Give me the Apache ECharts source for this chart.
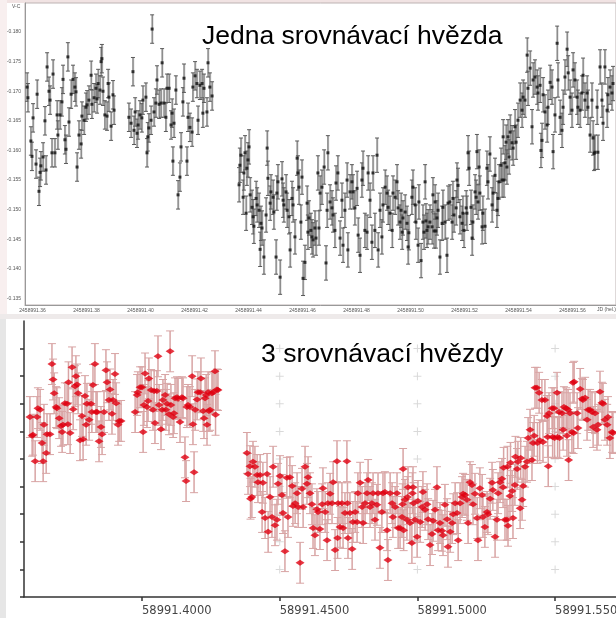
<!DOCTYPE html>
<html><head><meta charset="utf-8">
<script src="https://cdn.jsdelivr.net/npm/echarts@6/dist/echarts.min.js"></script>
<style>html,body{margin:0;padding:0;background:#fff}#c{width:616px;height:618px}</style>
</head><body><div id="c"></div>
<script>
// ---------- axis bases & ticks ----------
const JD0 = 2458991;      // top panel: JD (hel.)
const MJD0 = 58991;       // bottom panel
const topXTicks = [0.36,0.38,0.40,0.42,0.44,0.46,0.48,0.50,0.52,0.54,0.56];
const topYTicks = [-0.180,-0.175,-0.170,-0.165,-0.160,-0.155,-0.150,-0.145,-0.140,-0.135];
const botXTicks = [0.40,0.45,0.50,0.55];
const botYTicks = [-0.180,-0.175,-0.170,-0.165,-0.160,-0.155,-0.150,-0.145,-0.140,-0.135];
const crossXTicks = [0.45,0.50,0.55];   // faint "+" grid marks seen in the plot area
const titleTop = 'Jedna srovnávací hvězda';
const titleBot = '3 srovnávací hvězdy';
// typical error bar half-lengths
const topErr = [0.0024, 0.0024, 0.0029];
const botErr = 0.0037;

// ---------- top panel: [fraction of day, V-C] ----------
const topSeg1 = [[.3580,-.1707],[.3583,-.1689],[.3594,-.1616],[.3598,-.1590],[.3602,-.1655],[.3613,-.1577],[.3617,-.1695],[.3624,-.1531],[.3628,-.1563],[.3631,-.1574],[.3639,-.1589],[.3646,-.1650],[.3650,-.1567],[.3654,-.1741],[.3661,-.1700],[.3665,-.1685],[.3672,-.1596],[.3676,-.1729],[.3683,-.1596],[.3691,-.1660],[.3694,-.1626],[.3702,-.1660],[.3709,-.1682],[.3713,-.1720],[.3720,-.1618],[.3724,-.1602],[.3731,-.1758],[.3735,-.1648],[.3743,-.1695],[.3750,-.1720],[.3757,-.1707],[.3761,-.1699],[.3765,-.1572],[.3772,-.1626],[.3780,-.1611],[.3783,-.1658],[.3791,-.1651],[.3798,-.1673],[.3802,-.1677],[.3809,-.1685],[.3817,-.1727],[.3820,-.1678],[.3828,-.1689],[.3835,-.1705],[.3839,-.1687],[.3843,-.1713],[.3850,-.1702],[.3854,-.1750],[.3857,-.1755],[.3861,-.1700],[.3868,-.1660],[.3876,-.1658],[.3880,-.1713],[.3883,-.1690],[.3891,-.1641],[.3898,-.1694],[.3902,-.1668]];
const topSeg2 = [[.3957,-.1656],[.3965,-.1646],[.3972,-.1733],[.3976,-.1634],[.3980,-.1665],[.3987,-.1629],[.3991,-.1643],[.3998,-.1660],[.4005,-.1655],[.4009,-.1685],[.4020,-.1690],[.4024,-.1596],[.4027,-.1623],[.4031,-.1638],[.4039,-.1651],[.4043,-.1805],[.4050,-.1665],[.4057,-.1680],[.4061,-.1719],[.4069,-.1678],[.4076,-.1680],[.4080,-.1748],[.4087,-.1680],[.4094,-.1656],[.4098,-.1705],[.4106,-.1705],[.4113,-.1643],[.4117,-.1663],[.4120,-.1582],[.4124,-.1646],[.4131,-.1702],[.4139,-.1525],[.4146,-.1555],[.4150,-.1606],[.4157,-.1682],[.4161,-.1722],[.4172,-.1582],[.4176,-.1656],[.4183,-.1639],[.4191,-.1631],[.4194,-.1707],[.4202,-.1726],[.4209,-.1713],[.4213,-.1651],[.4220,-.1710],[.4228,-.1713],[.4231,-.1663],[.4235,-.1705],[.4246,-.1665],[.4250,-.1748],[.4257,-.1707],[.4265,-.1692]];
const topSeg3 = [[.4365,-.1542],[.4368,-.1575],[.4372,-.1592],[.4380,-.1521],[.4383,-.1562],[.4387,-.1596],[.4391,-.1494],[.4394,-.1570],[.4398,-.1584],[.4402,-.1606],[.4406,-.1525],[.4413,-.1504],[.4417,-.1488],[.4420,-.1472],[.4428,-.1519],[.4432,-.1508],[.4439,-.1499],[.4443,-.1433],[.4446,-.1477],[.4450,-.1469],[.4457,-.1420],[.4465,-.1491],[.4469,-.1604],[.4472,-.1553],[.4480,-.1511],[.4483,-.1530],[.4491,-.1521],[.4494,-.1496],[.4502,-.1420],[.4505,-.1528],[.4509,-.1547],[.4517,-.1386],[.4524,-.1552],[.4528,-.1516],[.4531,-.1508],[.4539,-.1530],[.4543,-.1499],[.4550,-.1488],[.4554,-.1432],[.4561,-.1519],[.4565,-.1508],[.4572,-.1454],[.4580,-.1587],[.4583,-.1562],[.4587,-.1538],[.4594,-.1479],[.4598,-.1555],[.4602,-.1384],[.4609,-.1411],[.4617,-.1511],[.4620,-.1462],[.4624,-.1486],[.4631,-.1465],[.4635,-.1454],[.4639,-.1449],[.4646,-.1469],[.4650,-.1452],[.4657,-.1562],[.4661,-.1469],[.4665,-.1528],[.4672,-.1538],[.4680,-.1572],[.4687,-.1410],[.4691,-.1499],[.4694,-.1596],[.4702,-.1513],[.4709,-.1503],[.4713,-.1491],[.4720,-.1465],[.4724,-.1545],[.4731,-.1562],[.4739,-.1452],[.4746,-.1516],[.4750,-.1440],[.4757,-.1499],[.4765,-.1550],[.4768,-.1432],[.4776,-.1530],[.4783,-.1547],[.4787,-.1530],[.4794,-.1503],[.4802,-.1536],[.4806,-.1457],[.4813,-.1423],[.4820,-.1550],[.4824,-.1570],[.4831,-.1465],[.4839,-.1462],[.4843,-.1562],[.4850,-.1516],[.4857,-.1445],[.4861,-.1562],[.4868,-.1465],[.4876,-.1592],[.4880,-.1432],[.4887,-.1499],[.4894,-.1454],[.4898,-.1508],[.4906,-.1538],[.4913,-.1528],[.4917,-.1504],[.4924,-.1494],[.4932,-.1465],[.4935,-.1528],[.4943,-.1521],[.4950,-.1547],[.4954,-.1503],[.4961,-.1479],[.4965,-.1499],[.4969,-.1462],[.4972,-.1486],[.4980,-.1496],[.4987,-.1477],[.4991,-.1437],[.4994,-.1461],[.5005,-.1521],[.5009,-.1538],[.5017,-.1508],[.5020,-.1479],[.5028,-.1440],[.5031,-.1513],[.5039,-.1414],[.5046,-.1479],[.5050,-.1462],[.5054,-.1547],[.5057,-.1481],[.5061,-.1465],[.5065,-.1471],[.5072,-.1479],[.5080,-.1471],[.5083,-.1525],[.5087,-.1464],[.5091,-.1513],[.5094,-.1464],[.5098,-.1486],[.5102,-.1499],[.5109,-.1420],[.5117,-.1477],[.5120,-.1504],[.5128,-.1479],[.5135,-.1423],[.5139,-.1511],[.5146,-.1513],[.5154,-.1479],[.5157,-.1519],[.5161,-.1491],[.5169,-.1503],[.5172,-.1550],[.5176,-.1541],[.5183,-.1488],[.5191,-.1477],[.5194,-.1494],[.5198,-.1465],[.5206,-.1503],[.5209,-.1494],[.5213,-.1596],[.5217,-.1570],[.5224,-.1504],[.5228,-.1452],[.5231,-.1479],[.5239,-.1530],[.5243,-.1521],[.5246,-.1598],[.5250,-.1513],[.5254,-.1572],[.5257,-.1528],[.5265,-.1471],[.5268,-.1494],[.5276,-.1472],[.5283,-.1570],[.5287,-.1547],[.5294,-.1594],[.5302,-.1508],[.5306,-.1528],[.5313,-.1558],[.5320,-.1499],[.5324,-.1519],[.5328,-.1547],[.5335,-.1575],[.5339,-.1550],[.5343,-.1623],[.5346,-.1550],[.5350,-.1579],[.5354,-.1614],[.5357,-.1572],[.5361,-.1623],[.5365,-.1589],[.5369,-.1631],[.5376,-.1613],[.5380,-.1604],[.5387,-.1640],[.5391,-.1614],[.5398,-.1651],[.5406,-.1685],[.5413,-.1668],[.5417,-.1690],[.5424,-.1685],[.5432,-.1761],[.5435,-.1705],[.5443,-.1739],[.5450,-.1640],[.5454,-.1719],[.5461,-.1724],[.5469,-.1707],[.5472,-.1697],[.5480,-.1710],[.5483,-.1600],[.5487,-.1617],[.5491,-.1694],[.5498,-.1665],[.5506,-.1643],[.5509,-.1673],[.5517,-.1715],[.5524,-.1707],[.5528,-.1598],[.5535,-.1660],[.5543,-.1781],[.5546,-.1719],[.5554,-.1656],[.5561,-.1634],[.5565,-.1673],[.5572,-.1724],[.5580,-.1771],[.5584,-.1731],[.5591,-.1690],[.5598,-.1668],[.5602,-.1736],[.5609,-.1719],[.5617,-.1690],[.5620,-.1673],[.5628,-.1668],[.5635,-.1697],[.5639,-.1727],[.5646,-.1685],[.5654,-.1697],[.5657,-.1673],[.5665,-.1626],[.5672,-.1685],[.5676,-.1621],[.5680,-.1595],[.5683,-.1597],[.5691,-.1673],[.5694,-.1597],[.5702,-.1741],[.5709,-.1685],[.5713,-.1646],[.5720,-.1741],[.5728,-.1668],[.5731,-.1694],[.5739,-.1707],[.5746,-.1697],[.5750,-.1713]];

// ---------- bottom panel: [fraction of day, magnitude] ----------
const botSeg1 = [[.3593,-.1676],[.3601,-.1642],[.3604,-.1644],[.3612,-.1596],[.3619,-.1676],[.3622,-.1692],[.3630,-.1689],[.3637,-.1629],[.3641,-.1596],[.3644,-.1662],[.3652,-.1611],[.3655,-.1645],[.3666,-.1645],[.3673,-.1772],[.3677,-.1744],[.3681,-.1719],[.3688,-.1694],[.3691,-.1692],[.3699,-.1674],[.3706,-.1660],[.3710,-.1649],[.3713,-.1662],[.3720,-.1701],[.3728,-.1700],[.3731,-.1663],[.3733,-.1739],[.3739,-.1647],[.3746,-.1766],[.3750,-.1690],[.3757,-.1732],[.3760,-.1750],[.3764,-.1735],[.3768,-.1719],[.3775,-.1634],[.3782,-.1678],[.3786,-.1636],[.3793,-.1714],[.3797,-.1662],[.3800,-.1700],[.3808,-.1671],[.3815,-.1700],[.3818,-.1685],[.3822,-.1734],[.3829,-.1772],[.3833,-.1685],[.3837,-.1685],[.3844,-.1632],[.3851,-.1658],[.3855,-.1645],[.3862,-.1685],[.3869,-.1761],[.3873,-.1739],[.3880,-.1707],[.3884,-.1726],[.3891,-.1682],[.3895,-.1707],[.3902,-.1754],[.3906,-.1701],[.3913,-.1662],[.3917,-.1669],[.3924,-.1669]];
const botSeg2 = [[.3975,-.1685],[.3982,-.1716],[.3985,-.1721],[.3993,-.1730],[.4000,-.1730],[.4004,-.1649],[.4007,-.1698],[.4011,-.1755],[.4018,-.1694],[.4022,-.1705],[.4025,-.1746],[.4033,-.1725],[.4040,-.1689],[.4044,-.1723],[.4047,-.1665],[.4054,-.1723],[.4058,-.1786],[.4062,-.1698],[.4069,-.1654],[.4073,-.1689],[.4076,-.1707],[.4084,-.1716],[.4087,-.1689],[.4091,-.1700],[.4098,-.1681],[.4102,-.1795],[.4105,-.1698],[.4113,-.1676],[.4116,-.1683],[.4120,-.1710],[.4127,-.1712],[.4131,-.1709],[.4138,-.1667],[.4145,-.1712],[.4149,-.1710],[.4156,-.1603],[.4160,-.1560],[.4163,-.1694],[.4167,-.1698],[.4174,-.1694],[.4182,-.1750],[.4185,-.1663],[.4189,-.1576],[.4193,-.1689],[.4200,-.1708],[.4203,-.1721],[.4211,-.1721],[.4214,-.1746],[.4222,-.1687],[.4225,-.1674],[.4229,-.1710],[.4233,-.1716],[.4236,-.1662],[.4240,-.1721],[.4243,-.1687],[.4247,-.1689],[.4254,-.1719],[.4258,-.1721],[.4265,-.1759],[.4267,-.1680],[.4272,-.1726],[.4276,-.1725]];
const botSeg3 = [[.4381,-.1611],[.4385,-.1573],[.4392,-.1587],[.4394,-.1528],[.4399,-.1531],[.4403,-.1595],[.4410,-.1586],[.4418,-.1571],[.4421,-.1558],[.4429,-.1571],[.4436,-.1504],[.4439,-.1557],[.4447,-.1493],[.4454,-.1573],[.4458,-.1468],[.4465,-.1531],[.4472,-.1495],[.4476,-.1586],[.4483,-.1480],[.4490,-.1490],[.4494,-.1555],[.4501,-.1569],[.4508,-.1535],[.4512,-.1502],[.4519,-.1433],[.4526,-.1566],[.4530,-.1495],[.4537,-.1567],[.4545,-.1551],[.4548,-.1515],[.4556,-.1520],[.4563,-.1538],[.4567,-.1513],[.4574,-.1412],[.4581,-.1546],[.4585,-.1513],[.4592,-.1586],[.4599,-.1555],[.4603,-.1567],[.4610,-.1538],[.4617,-.1518],[.4621,-.1475],[.4628,-.1462],[.4635,-.1509],[.4639,-.1504],[.4646,-.1473],[.4654,-.1518],[.4657,-.1547],[.4665,-.1504],[.4672,-.1453],[.4675,-.1520],[.4683,-.1537],[.4690,-.1520],[.4694,-.1558],[.4701,-.1435],[.4708,-.1596],[.4710,-.1457],[.4712,-.1520],[.4719,-.1477],[.4726,-.1520],[.4730,-.1475],[.4737,-.1502],[.4744,-.1596],[.4746,-.1520],[.4748,-.1457],[.4755,-.1502],[.4763,-.1437],[.4766,-.1486],[.4774,-.1504],[.4781,-.1486],[.4784,-.1538],[.4792,-.1557],[.4799,-.1513],[.4803,-.1484],[.4810,-.1520],[.4817,-.1538],[.4821,-.1562],[.4828,-.1513],[.4835,-.1520],[.4839,-.1538],[.4846,-.1490],[.4853,-.1517],[.4857,-.1538],[.4864,-.1439],[.4871,-.1504],[.4875,-.1538],[.4882,-.1540],[.4890,-.1471],[.4893,-.1417],[.4901,-.1538],[.4908,-.1520],[.4911,-.1495],[.4919,-.1513],[.4926,-.1538],[.4930,-.1475],[.4937,-.1475],[.4944,-.1495],[.4946,-.1518],[.4948,-.1582],[.4950,-.1471],[.4955,-.1526],[.4962,-.1490],[.4964,-.1531],[.4966,-.1549],[.4973,-.1484],[.4980,-.1448],[.4982,-.1538],[.4984,-.1549],[.4986,-.1520],[.4991,-.1490],[.4999,-.1459],[.5002,-.1524],[.5010,-.1486],[.5017,-.1513],[.5020,-.1540],[.5028,-.1508],[.5035,-.1518],[.5039,-.1491],[.5046,-.1444],[.5053,-.1464],[.5057,-.1488],[.5064,-.1508],[.5071,-.1549],[.5075,-.1471],[.5082,-.1484],[.5089,-.1470],[.5093,-.1462],[.5100,-.1517],[.5108,-.1491],[.5111,-.1441],[.5119,-.1468],[.5126,-.1484],[.5130,-.1500],[.5137,-.1520],[.5144,-.1502],[.5148,-.1453],[.5155,-.1520],[.5162,-.1531],[.5166,-.1537],[.5173,-.1535],[.5180,-.1526],[.5184,-.1484],[.5191,-.1558],[.5198,-.1553],[.5202,-.1518],[.5209,-.1537],[.5217,-.1493],[.5220,-.1453],[.5227,-.1547],[.5235,-.1535],[.5238,-.1495],[.5245,-.1477],[.5253,-.1504],[.5256,-.1500],[.5264,-.1528],[.5271,-.1557],[.5274,-.1544],[.5282,-.1459],[.5289,-.1490],[.5293,-.1538],[.5300,-.1558],[.5307,-.1564],[.5311,-.1549],[.5313,-.1584],[.5318,-.1490],[.5325,-.1490],[.5327,-.1586],[.5329,-.1479],[.5336,-.1533],[.5338,-.1593],[.5344,-.1542],[.5347,-.1493],[.5354,-.1553],[.5356,-.1604],[.5362,-.1582],[.5365,-.1595],[.5373,-.1511],[.5375,-.1602],[.5380,-.1526],[.5384,-.1551],[.5391,-.1586],[.5398,-.1595],[.5402,-.1638],[.5409,-.1653],[.5416,-.1598],[.5420,-.1629],[.5424,-.1642],[.5427,-.1729],[.5434,-.1729],[.5436,-.1629],[.5442,-.1720],[.5444,-.1634],[.5452,-.1707],[.5456,-.1631],[.5463,-.1707],[.5471,-.1678],[.5473,-.1640],[.5475,-.1587],[.5478,-.1683],[.5489,-.1692],[.5491,-.1640],[.5496,-.1692],[.5498,-.1638],[.5507,-.1720],[.5509,-.1640],[.5514,-.1685],[.5516,-.1638],[.5525,-.1683],[.5529,-.1653],[.5532,-.1694],[.5540,-.1692],[.5543,-.1642],[.5547,-.1689],[.5549,-.1598],[.5554,-.1683],[.5561,-.1649],[.5565,-.1738],[.5567,-.1647],[.5569,-.1740],[.5580,-.1683],[.5583,-.1656],[.5591,-.1727],[.5598,-.1709],[.5601,-.1707],[.5609,-.1711],[.5616,-.1671],[.5620,-.1689],[.5627,-.1689],[.5634,-.1685],[.5638,-.1658],[.5645,-.1683],[.5652,-.1653],[.5656,-.1662],[.5663,-.1722],[.5670,-.1702],[.5674,-.1700],[.5681,-.1671],[.5689,-.1662],[.5692,-.1676],[.5699,-.1638],[.5707,-.1649],[.5710,-.1647]];

// ---------- build series data ----------
const topData = [].concat(
  topSeg1.map(p => [JD0 + p[0], p[1], topErr[0]]),
  topSeg2.map(p => [JD0 + p[0], p[1], topErr[1]]),
  topSeg3.map(p => [JD0 + p[0], p[1], topErr[2]])
);
const botData = [].concat(botSeg1, botSeg2, botSeg3).map(p => [MJD0 + p[0], p[1], botErr]);
const crossData = [];
crossXTicks.forEach(x => botYTicks.slice(0, -1).forEach(y => crossData.push([MJD0 + x, y])));

function errBars(capW, colors, lw, twoTone) {
  return function (params, api) {
    const x = api.value(0), y = api.value(1), e = api.value(2);
    const a = api.coord([x, y - e]), b = api.coord([x, y + e]);
    const ch = [];
    if (twoTone) {
      ch.push({type:'line', shape:{x1:a[0]+0.8,y1:a[1],x2:b[0]+0.8,y2:b[1]}, style:{stroke:colors[1], lineWidth:lw}});
    }
    ch.push({type:'line', shape:{x1:a[0],y1:a[1],x2:b[0],y2:b[1]}, style:{stroke:colors[0], lineWidth:lw}});
    ch.push({type:'line', shape:{x1:a[0]-capW/2,y1:a[1],x2:a[0]+capW/2,y2:a[1]}, style:{stroke:colors[0], lineWidth:1}});
    ch.push({type:'line', shape:{x1:b[0]-capW/2,y1:b[1],x2:b[0]+capW/2,y2:b[1]}, style:{stroke:colors[0], lineWidth:1}});
    return {type:'group', children: ch};
  };
}

const chart = echarts.init(document.getElementById('c'));
chart.setOption({
  animation: false,
  backgroundColor: '#ffffff',
  graphic: [
    {type:'rect', z:-10, shape:{x:0,y:0,width:616,height:3}, style:{fill:'#f1e3e3'}},
    {type:'rect', z:-10, shape:{x:0,y:0,width:7,height:314}, style:{fill:'#f8efef'}},
    {type:'rect', z:-10, shape:{x:0,y:314,width:616,height:5}, style:{fill:'#eeeaea'}},
    {type:'rect', z:-10, shape:{x:0,y:319,width:6,height:299}, style:{fill:'#e6e6e6'}},
    {type:'text', left:12, top:4, style:{text:'V-C', font:'5px "Liberation Sans", Arial', fill:'#555'}},
    {type:'text', left:597, top:307, style:{text:'JD (hel.)', font:'5px "Liberation Sans", Arial', fill:'#555'}},
    {type:'text', z:50, style:{x:202, y:37, text:titleTop, font:'26.5px "Liberation Sans", Arial', fill:'#000', verticalAlign:'middle', align:'left'}},
    {type:'text', z:50, style:{x:261, y:355, text:titleBot, font:'26.6px "Liberation Sans", Arial', fill:'#000', verticalAlign:'middle', align:'left'}}
  ],
  grid: [
    {left:25, top:3, width:591, height:302, show:true, borderColor:'#bdb3b3', borderWidth:1, backgroundColor:'#fff', outerBoundsMode:'none', containLabel:false},
    {left:24, top:321, width:592, height:276, outerBoundsMode:'none', containLabel:false}
  ],
  xAxis: [
    {gridIndex:0, type:'value', min:JD0+0.35722, max:JD0+0.57611, splitLine:{show:false},
     axisLine:{lineStyle:{color:'#999', width:1}}, axisTick:{show:false},
     axisLabel:{customValues: topXTicks.map(t => JD0 + t), formatter: v => v.toFixed(2), fontSize:5, color:'#555', margin:3, fontFamily:'Liberation Sans'}},
    {gridIndex:1, type:'value', min:MJD0+0.35715, max:MJD0+0.57211, splitLine:{show:false},
     axisLine:{lineStyle:{color:'#333', width:1.5}},
     axisTick:{customValues: botXTicks.map(t => MJD0 + t), length:4, lineStyle:{color:'#333', width:1.5}},
     axisLabel:{customValues: botXTicks.map(t => MJD0 + t), formatter: v => v.toFixed(4), align:'left', fontSize:11.5, color:'#444', margin:8, fontFamily:'DejaVu Sans'}}
  ],
  yAxis: [
    {gridIndex:0, type:'value', inverse:true, min:-0.1849, max:-0.1339, splitLine:{show:false},
     axisLine:{show:true, lineStyle:{color:'#999', width:1}}, axisTick:{show:false},
     axisLabel:{customValues: topYTicks, formatter: v => v.toFixed(3), fontSize:5, color:'#555', margin:4, fontFamily:'Liberation Sans'}},
    {gridIndex:1, type:'value', inverse:true, min:-0.1850, max:-0.1350, splitLine:{show:false},
     axisLine:{show:true, lineStyle:{color:'#333', width:1.5}},
     axisTick:{show:true, customValues: botYTicks, length:4, lineStyle:{color:'#333', width:1.5}},
     axisLabel:{show:false}}
  ],
  series: [
    {type:'scatter', xAxisIndex:1, yAxisIndex:1, data:crossData, silent:true, z:1,
     symbol:'path://M0,3.5h8v1h-8zM3.5,0h1v8h-1z', symbolSize:8, itemStyle:{color:'#d0d0d0'}},
    {type:'custom', xAxisIndex:0, yAxisIndex:0, data:topData, silent:true, z:2,
     encode:{x:0, y:1}, renderItem: errBars(4, ['#5a5a5a', '#c4c4c4'], 1, true)},
    {type:'scatter', xAxisIndex:0, yAxisIndex:0, data:topData, silent:true, z:3,
     symbol:'rect', symbolSize:3, itemStyle:{color:'#111'}},
    {type:'custom', xAxisIndex:1, yAxisIndex:1, data:botData, silent:true, z:2,
     encode:{x:0, y:1}, renderItem: errBars(8, ['#d8a4a4'], 1.5, false)},
    {type:'scatter', xAxisIndex:1, yAxisIndex:1, data:botData, silent:true, z:3,
     symbol:'diamond', symbolSize:[9,6], itemStyle:{color:'#e00010'}}
  ]
});
</script>
</body></html>
